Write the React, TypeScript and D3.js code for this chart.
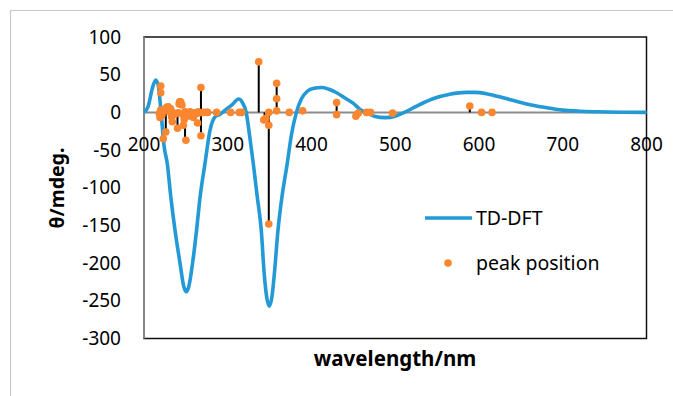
import React from "react";
import * as d3 from "d3";

// TD-DFT curve: wavelength (nm), theta (mdeg)
const curveWl = [200, 205, 210, 214, 217, 220, 224, 227.8, 232, 237, 243, 247.5, 250.5, 253.5, 258, 262.8, 267, 272.8, 278.8, 284.7, 290, 298, 305, 313, 318, 322, 326, 330.5, 335, 340, 343.6, 346.6, 349.6, 352.6, 355.6, 360, 365, 371, 376, 382, 388, 395, 403, 412, 420, 430, 440, 450, 458, 465, 475, 488, 500, 511, 525, 545, 565, 585, 595, 610, 630, 650, 670, 690, 700, 720, 740, 770, 800];
const curveVal = [0, 8, 32, 43, 36, 5, -45, -68, -112, -156, -200, -231, -238, -231, -200, -156, -112, -68, -24, -6, -3, 4, 10, 17.7, 12, 0, -30, -68, -110, -156, -215, -246, -257, -246, -215, -156, -110, -68, -30, 0, 18, 28, 32, 33, 31, 26, 19, 12, 4, 0, -5, -7, -5, 0, 8, 18, 24, 26.5, 26.5, 24.5, 19, 13, 8, 4.5, 3, 1.5, 0.8, 0.2, 0];

// peak position sticks (drawn from 0 to value)
const stickWl = [226, 240, 249, 268, 268, 337, 344, 349, 358.4, 430, 430, 589];
const stickVal = [-26, -21, -37, 33, -31, 67, -8, -148, 38.5, 13, -3, 8.4];

// peak position points
const peakWl = [220, 220, 223, 226, 240, 242, 242.5, 247, 250, 264, 268, 268, 337, 343, 345.6, 349, 349, 349, 358.4, 358.4, 358.4, 373.4, 389.4, 430, 430, 453, 455.8, 465.8, 470.5, 496.8, 589, 603, 615.6, 276, 286.7, 303.5, 313.8, 316.6,
  218.3, 219.1, 219.9, 221.5, 223, 225, 227, 229, 230.2, 231.8, 233, 233.8, 235, 237, 239, 241, 243.8, 245.3, 246.9, 248, 248.9, 250.8, 252.9, 254.9, 256.9, 258.9, 260.9, 262.9, 264.8, 266.8, 270.8, 274.8];
const peakVal = [35, 26, -35, -26, -21, 11, 14, -17, -37, -14, 33, -31, 67, -10, -8, 0, -17, -148, 38.5, 18, 2, 0, 2, 13, -3, -5, -1, 0, 0, -1, 8.4, 0, 0, 0, 0, 0, 0, 0,
  -1.4, -6.7, 3, -3.6, 0.8, 4, 6.6, 7.5, 1, 4.8, -5.8, -12.5, -0.5, -2.3, -1.4, -0.5, 14, 9.7, -3.6, -9.3, 0.8, -1.4, -4.9, 0.8, -0.5, -6.7, -0.5, -1.4, 0.8, -0.5, 0, 0];

const xTicks = [200, 300, 400, 500, 600, 700, 800];
const yTicks = [100, 50, 0, -50, -100, -150, -200, -250, -300];

const BLUE = "#2399d6";
const ORANGE = "#fb8630";
const FONT = "'Noto Sans', 'Open Sans', sans-serif";

export default function App() {
  const W = 673, H = 396;
  const left = 144, right = 646.5, top = 37, bottom = 338.5;
  const x = d3.scaleLinear().domain([200, 800]).range([left, right]);
  const y = d3.scaleLinear().domain([-300, 100]).range([bottom, top]);
  const pts: [number, number][] = curveWl.map((w, i) => [w, curveVal[i]]);
  const line = d3.line<[number, number]>().x(d => x(d[0])).y(d => y(d[1])).curve(d3.curveMonotoneX);
  const y0 = y(0);

  return (
    <svg width={W} height={H} style={{ position: "absolute", left: 0, top: 0, background: "#fff" }}>
      <rect x={0} y={0} width={W} height={H} fill="#fff" />
      {/* outer chart border */}
      <path d={`M10.5,${H}V10.5H${W}`} fill="none" stroke="#c8c8c8" strokeWidth={1.2} />
      {/* plot box */}
      <rect x={left} y={top} width={right - left} height={bottom - top} fill="none" stroke="#111" strokeWidth={1.5} />
      <line x1={left} x2={left} y1={top} y2={bottom} stroke="#8c8c8c" strokeWidth={1.8} />
      {/* zero line */}
      <line x1={left} x2={right} y1={y0} y2={y0} stroke="#8c8c8c" strokeWidth={2} />
      {/* y tick labels */}
      {yTicks.map(t => (
        <text key={t} x={121} y={y(t) + 6.5} textAnchor="end" fontFamily={FONT} fontSize={19} fill="#000">{t}</text>
      ))}
      {/* x tick labels */}
      {xTicks.map(t => (
        <text key={t} x={x(t)} y={151} textAnchor="middle" fontFamily={FONT} fontSize={19} fill="#000">{t}</text>
      ))}
      {/* curve */}
      <path d={line(pts) || ""} fill="none" stroke={BLUE} strokeWidth={3.6} strokeLinejoin="round" />
      {/* sticks */}
      {stickWl.map((w, i) => (
        <line key={"s" + i} x1={x(w)} x2={x(w)} y1={y0} y2={y(stickVal[i])} stroke="#000" strokeWidth={2} />
      ))}
      {/* peak points */}
      {peakWl.map((w, i) => (
        <circle key={"p" + i} cx={x(w)} cy={y(peakVal[i])} r={3.8} fill={ORANGE} />
      ))}
      {/* axis titles */}
      <text x={395} y={366} textAnchor="middle" fontFamily={FONT} fontSize={20.5} fontWeight="bold" fill="#000">wavelength/nm</text>
      <text transform={`translate(64,188) rotate(-90)`} textAnchor="middle" fontFamily={FONT} fontSize={19.5} fontWeight="bold" fill="#000">θ/mdeg.</text>
      {/* legend */}
      <line x1={425} x2={472} y1={218} y2={218} stroke={BLUE} strokeWidth={3.6} />
      <text x={476} y={225} fontFamily={FONT} fontSize={19.5} fill="#000">TD-DFT</text>
      <circle cx={448} cy={263} r={3.8} fill={ORANGE} />
      <text x={476} y={270} fontFamily={FONT} fontSize={19.5} fill="#000">peak position</text>
    </svg>
  );
}
